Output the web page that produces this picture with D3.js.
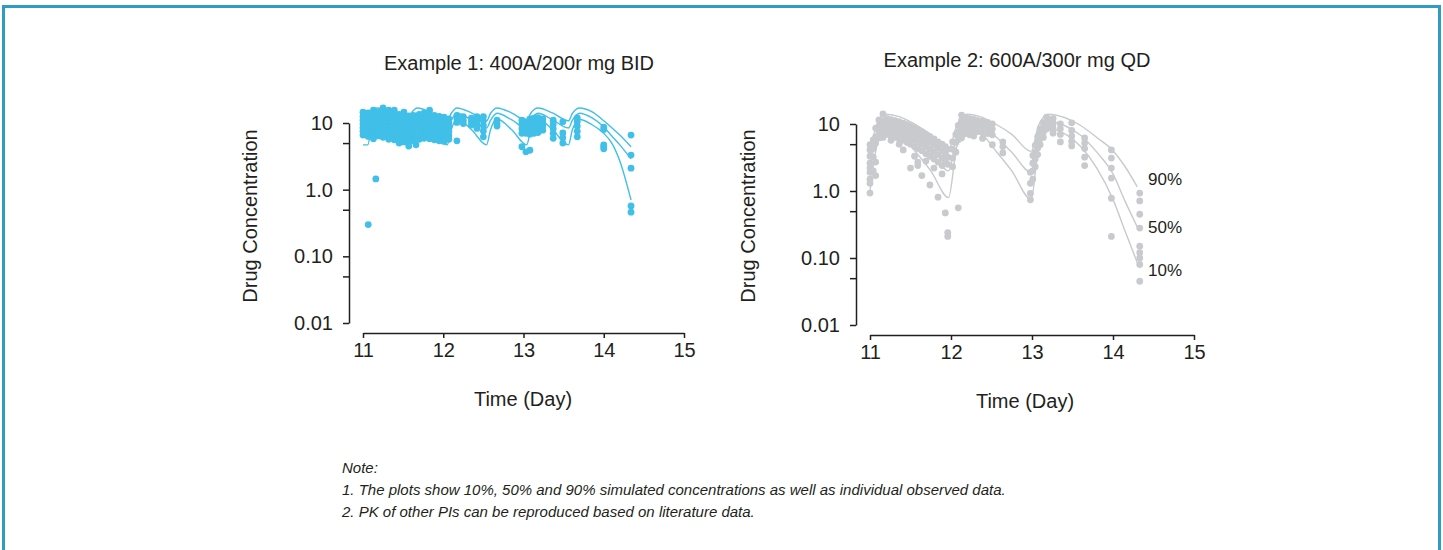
<!DOCTYPE html>
<html>
<head>
<meta charset="utf-8">
<script src="https://cdn.jsdelivr.net/npm/d3@7"></script>
<style>
  body { margin: 0; background: #fff; }
  svg { display: block; }
  text { font-family: "Liberation Sans", Arial, sans-serif; fill: #231f20; }
</style>
</head>
<body>
<svg id="chart" width="1443" height="550"></svg>
<script>
// shared axis values
const timeTicks = [11, 12, 13, 14, 15];
const concTicks = [10, 1, 0.1, 0.01];
const concTickLabels = ['10', '1.0', '0.10', '0.01'];
const concMinorTicks = [5, 0.5, 0.05];
const percentileLabels = ['90%', '50%', '10%'];
const noteLines = [
  'Note:',
  '1. The plots show 10%, 50% and 90% simulated concentrations as well as individual observed data.',
  '2. PK of other PIs can be reproduced based on literature data.'
];

// Example 1: 400A/200r mg BID - simulated percentiles
const bidCurveTime = [11.00, 11.06, 11.10, 11.18, 11.35, 11.55, 11.60, 11.68, 11.85, 12.05, 12.10, 12.17, 12.35, 12.54, 12.59, 12.67, 12.85, 13.04, 13.09, 13.18, 13.36, 13.56, 13.61, 13.70, 13.85, 14.00, 14.10, 14.20, 14.34];
const bidP90 = [10.8, 10.8, 14.0, 16.8, 14.2, 10.8, 14.0, 16.8, 14.2, 10.8, 14.0, 16.8, 14.2, 10.8, 14.0, 16.8, 14.2, 10.8, 14.0, 16.8, 14.2, 10.8, 14.0, 16.8, 14.8, 10.8, 8.5, 6.6, 4.4];
const bidP50 = [8.2, 8.2, 11.0, 14.0, 11.2, 8.4, 11.0, 14.0, 11.2, 8.4, 11.0, 14.0, 11.2, 8.4, 11.0, 14.0, 11.2, 8.4, 11.0, 14.0, 11.2, 8.4, 11.0, 14.0, 12.0, 8.7, 6.4, 4.7, 2.9];
const bidP10 = [4.7, 4.7, 8.0, 11.3, 8.0, 4.7, 8.0, 11.3, 8.0, 4.7, 8.0, 11.5, 8.0, 4.7, 8.0, 11.5, 8.0, 4.7, 8.0, 11.5, 8.0, 4.7, 8.0, 11.3, 9.5, 7.0, 5.0, 2.7, 0.7];

// Example 1 observed: [time, concentrations at that time]
const bidObserved = [
  [11.00, [14.5, 12.5, 11, 9.7, 8.5, 7.5, 6.6]],
  [11.065, [14.2, 12.2, 10.6, 9.3, 8.2, 7.2, 6.3, 0.3]],
  [11.13, [15.6, 13.3, 11.5, 10, 8.7, 7.6, 6.6, 5.8]],
  [11.16, [1.45]],
  [11.19, [14.5, 12.6, 11, 9.6, 8.4, 7.3, 6.4]],
  [11.25, [16.8, 14, 12.1, 10.5, 9.2, 8, 7, 6.1]],
  [11.32, [15.6, 13.2, 11.4, 9.9, 8.6, 7.5, 6.5, 5.7]],
  [11.39, [15.6, 13.2, 11.4, 9.9, 8.6, 7.4, 6.4, 5.6]],
  [11.45, [13.5, 11.7, 10.1, 8.8, 7.6, 6.6, 5.7, 5.0]],
  [11.51, [14.6, 12.4, 10.7, 9.2, 8, 6.9, 6, 5.2]],
  [11.57, [12.8, 11, 9.5, 8.2, 7.1, 6.1, 5.3, 4.5]],
  [11.63, [13, 11.2, 9.7, 8.4, 7.2, 6.2, 5.4]],
  [11.66, [4.7]],
  [11.70, [13.5, 11.6, 10, 8.7, 7.5, 6.5, 5.7]],
  [11.76, [14, 12, 10.4, 9, 7.8, 6.8, 5.9]],
  [11.83, [15.6, 13.3, 11.5, 10, 8.7, 7.5, 6.5, 5.8]],
  [11.89, [13, 11.3, 9.8, 8.5, 7.4, 6.4, 5.6]],
  [11.95, [12.6, 11, 9.6, 8.3, 7.2, 6.2, 5.4]],
  [12.01, [12.2, 10.6, 9.2, 8, 6.9, 6.0, 5.3]],
  [12.07, [11.5, 10, 8.7, 7.5, 6.5, 5.7]],
  [12.17, [13, 11.5, 10.2, 5.4]],
  [12.25, [12.5, 11, 9.8]],
  [12.35, [11.8, 10.5, 9.3]],
  [12.42, [12.5, 11, 9.5, 8.3]],
  [12.50, [12.5, 10.8, 9.2, 7.6, 6.2]],
  [12.67, [11, 9.8, 9.0]],
  [12.98, [11, 9.5, 8.2, 7.0, 4.4]],
  [13.03, [10.5, 9.2, 8, 7, 3.7]],
  [13.08, [11.5, 10, 8.8, 7.7, 6.8, 3.9]],
  [13.13, [11.8, 10.5, 9.2, 8, 7]],
  [13.18, [12, 10.5, 9.3, 8.2, 7.2]],
  [13.24, [11.5, 10.2, 9, 7.8]],
  [13.37, [11, 9.5, 8.2, 7, 5.9]],
  [13.49, [10.4, 7.1, 6.0, 5.0]],
  [13.67, [11.9, 10.5, 9, 7.5, 6.2]],
  [14.00, [8.7, 8.0, 4.7, 4.4, 4.1]],
  [14.34, [6.6, 3.3, 2.1, 0.57, 0.46]]
];

// Example 2: 600A/300r mg QD - simulated percentiles
const qdCurveTime = [11.00, 11.08, 11.18, 11.35, 11.55, 11.75, 11.97, 12.07, 12.20, 12.35, 12.55, 12.75, 12.99, 13.08, 13.20, 13.40, 13.60, 13.80, 14.00, 14.15, 14.30];
const qdP90 = [4.0, 9.5, 14.0, 13.0, 10.0, 7.0, 4.0, 9.5, 14.0, 13.0, 10.0, 7.0, 3.9, 9.5, 14.0, 12.5, 9.5, 6.3, 4.0, 2.3, 1.15];
const qdP50 = [2.2, 6.5, 11.0, 10.0, 6.5, 3.8, 2.0, 6.5, 11.0, 10.0, 6.5, 3.8, 1.9, 6.5, 11.0, 9.5, 6.8, 3.8, 1.8, 0.7, 0.29];
const qdP10 = [1.0, 4.5, 8.5, 7.6, 4.0, 2.0, 0.8, 4.5, 8.5, 7.6, 4.0, 2.0, 0.75, 4.5, 8.5, 7.2, 4.6, 2.2, 0.75, 0.25, 0.085];

// Example 2 observed
const qdObserved = [
  [11.00, [4.9, 4.1, 3.3, 2.6, 2.2, 1.9, 1.5, 1.3, 0.93]],
  [11.04, [5.8, 4.3, 3.2, 2.0]],
  [11.07, [8.7, 6.4, 5.2, 2.7, 1.7]],
  [11.11, [11.5, 9.3, 7.6, 6.2]],
  [11.16, [14.1, 11.2, 9.2, 7.5, 6.3]],
  [11.21, [12.0, 10.0, 8.4, 7.0]],
  [11.26, [11.6, 9.6, 8.0, 6.6, 5.7]],
  [11.31, [11.2, 9.3, 7.6, 6.3]],
  [11.36, [10.8, 8.9, 7.3, 6.0, 5.0]],
  [11.41, [10.3, 8.5, 7.0, 5.7, 4.1]],
  [11.46, [9.8, 8.1, 6.6, 5.3]],
  [11.50, [9.3, 7.6, 6.2, 5.0, 2.2]],
  [11.55, [8.8, 7.2, 5.8, 4.6, 3.3]],
  [11.59, [8.2, 6.7, 5.4, 4.3, 2.7, 2.4]],
  [11.64, [7.6, 6.2, 5.0, 4.0, 1.7]],
  [11.69, [7.0, 5.7, 4.6, 3.6, 2.8]],
  [11.74, [6.5, 5.3, 4.2, 3.3, 1.23]],
  [11.79, [6.0, 4.8, 3.8, 3.0, 2.2]],
  [11.84, [5.4, 4.4, 3.5, 2.7, 0.81]],
  [11.89, [5.0, 4.0, 3.1, 2.4, 1.8]],
  [11.93, [4.6, 3.6, 2.8, 0.47]],
  [11.96, [4.2, 3.2, 2.5, 0.24, 0.21]],
  [12.02, [5.4, 4.2, 3.1, 2.3]],
  [12.06, [7.0, 5.3, 3.8]],
  [12.09, [9.5, 7.6, 5.8, 0.56]],
  [12.13, [13.6, 11.2, 9.3, 7.6, 6.2]],
  [12.18, [12.5, 10.4, 8.6, 7.2]],
  [12.23, [12.0, 10.0, 8.3, 6.9]],
  [12.28, [11.7, 9.7, 8.0, 6.6]],
  [12.33, [11.3, 9.4, 7.7]],
  [12.39, [11.0, 9.1, 7.4, 6.1]],
  [12.45, [10.6, 8.8, 7.2]],
  [12.51, [10.0, 8.4, 6.9, 4.9]],
  [12.64, [5.4, 4.6, 3.7]],
  [12.98, [1.9, 1.3, 0.92, 0.74]],
  [13.01, [3.4, 2.6, 2.0, 1.5]],
  [13.04, [4.8, 3.8, 3.0, 2.3]],
  [13.07, [6.5, 5.4, 4.4, 3.5]],
  [13.10, [8.5, 7.2, 6.0, 4.9]],
  [13.14, [10.5, 9.0, 7.6, 6.3]],
  [13.18, [12.7, 11.0, 9.7, 8.4]],
  [13.22, [11.5, 10.0, 8.8]],
  [13.26, [12.0, 10.2, 8.6, 7.3]],
  [13.35, [10.0, 8.5, 7.0, 5.4]],
  [13.49, [10.4, 8.0, 6.6, 5.5, 4.7]],
  [13.65, [6.2, 5.2, 4.3, 3.2, 2.4]],
  [13.98, [4.1, 3.1, 2.2, 1.56, 0.78, 0.21]],
  [14.33, [0.93, 0.71, 0.45, 0.28, 0.15, 0.12, 0.10, 0.08, 0.045]]
];

const INK = '#231f20';
const svg = d3.select('#chart');

// outer frame
svg.append('rect')
  .attr('x', 3.5).attr('y', 6.5)
  .attr('width', 1436).attr('height', 600)
  .attr('fill', 'none')
  .attr('stroke', '#2e9cc4')
  .attr('stroke-width', 3);

function drawPanel(cfg) {
  const x = d3.scaleLinear().domain([11, 15]).range([cfg.x0, cfg.x1]);
  const y = d3.scaleLog().domain([0.01, 10]).range([cfg.yBottom, cfg.yTop]);
  const g = svg.append('g');

  // title
  g.append('text')
    .attr('x', cfg.titleX).attr('y', cfg.titleY)
    .attr('text-anchor', 'middle')
    .style('font-size', '20px')
    .text(cfg.title);

  // y axis, minor ticks left unlabelled
  const yAxis = g.append('g')
    .attr('transform', `translate(${cfg.axisX},0)`)
    .call(d3.axisLeft(y)
      .tickValues(concTicks.concat(concMinorTicks))
      .tickFormat(d => {
        const i = concTicks.indexOf(d);
        return i >= 0 ? concTickLabels[i] : '';
      })
      .tickSize(6).tickPadding(10).tickSizeOuter(0));

  const xAxis = g.append('g')
    .attr('transform', `translate(0,${cfg.axisY})`)
    .call(d3.axisBottom(x)
      .tickValues(timeTicks)
      .tickFormat(d3.format('d'))
      .tickSize(5).tickPadding(5).tickSizeOuter(0));

  [yAxis, xAxis].forEach(a => {
    a.selectAll('path, line').attr('stroke', INK).attr('stroke-width', 1.5);
    a.selectAll('text')
      .attr('fill', INK)
      .style('font-size', '20px')
      .style('font-family', '"Liberation Sans", Arial, sans-serif');
  });

  // axis titles
  g.append('text')
    .attr('transform', `translate(${cfg.yTitleX},${cfg.yTitleY}) rotate(-90)`)
    .attr('text-anchor', 'middle')
    .style('font-size', '20px')
    .text('Drug Concentration');
  g.append('text')
    .attr('x', cfg.xTitleX).attr('y', cfg.xTitleY)
    .attr('text-anchor', 'middle')
    .style('font-size', '20px')
    .text('Time (Day)');

  // percentile lines
  const line = d3.line()
    .x(d => x(d[0]))
    .y(d => y(d[1]))
    .curve(d3.curveMonotoneX);
  [cfg.p90, cfg.p50, cfg.p10].forEach(vals => {
    g.append('path')
      .datum(cfg.times.map((t, i) => [t, vals[i]]))
      .attr('d', line)
      .attr('fill', 'none')
      .attr('stroke', cfg.lineColor)
      .attr('stroke-width', 1.4);
  });

  // observed points
  const pts = [];
  cfg.observed.forEach(([t, cs]) => cs.forEach(c => pts.push([t, c])));
  g.append('g')
    .selectAll('circle')
    .data(pts)
    .enter()
    .append('circle')
    .attr('cx', d => x(d[0]))
    .attr('cy', d => y(d[1]))
    .attr('r', 3.4)
    .attr('fill', cfg.dotColor);

  return { x, y, g };
}

drawPanel({
  title: 'Example 1: 400A/200r mg BID',
  titleX: 519, titleY: 70,
  x0: 363, x1: 684, yTop: 123, yBottom: 323,
  axisX: 349, axisY: 333,
  yTitleX: 257, yTitleY: 216,
  xTitleX: 523, xTitleY: 406,
  times: bidCurveTime, p90: bidP90, p50: bidP50, p10: bidP10,
  observed: bidObserved,
  lineColor: '#40bfe8', dotColor: '#40bfe8'
});

const right = drawPanel({
  title: 'Example 2: 600A/300r mg QD',
  titleX: 1017, titleY: 67,
  x0: 870, x1: 1194, yTop: 124, yBottom: 325,
  axisX: 856, axisY: 335,
  yTitleX: 755, yTitleY: 216,
  xTitleX: 1025, xTitleY: 408,
  times: qdCurveTime, p90: qdP90, p50: qdP50, p10: qdP10,
  observed: qdObserved,
  lineColor: '#c9cace', dotColor: '#c9cace'
});

// percentile labels next to the QD curve ends
const labelY = [185, 233, 276];
right.g.selectAll('.pct')
  .data(percentileLabels)
  .enter()
  .append('text')
  .attr('class', 'pct')
  .attr('x', 1148)
  .attr('y', (d, i) => labelY[i])
  .style('font-size', '17px')
  .text(d => d);

// footnote
svg.append('g')
  .selectAll('text')
  .data(noteLines)
  .enter()
  .append('text')
  .attr('x', 342)
  .attr('y', (d, i) => 473 + i * 22)
  .style('font-size', '15px')
  .style('font-style', 'italic')
  .text(d => d);
</script>
</body>
</html>
